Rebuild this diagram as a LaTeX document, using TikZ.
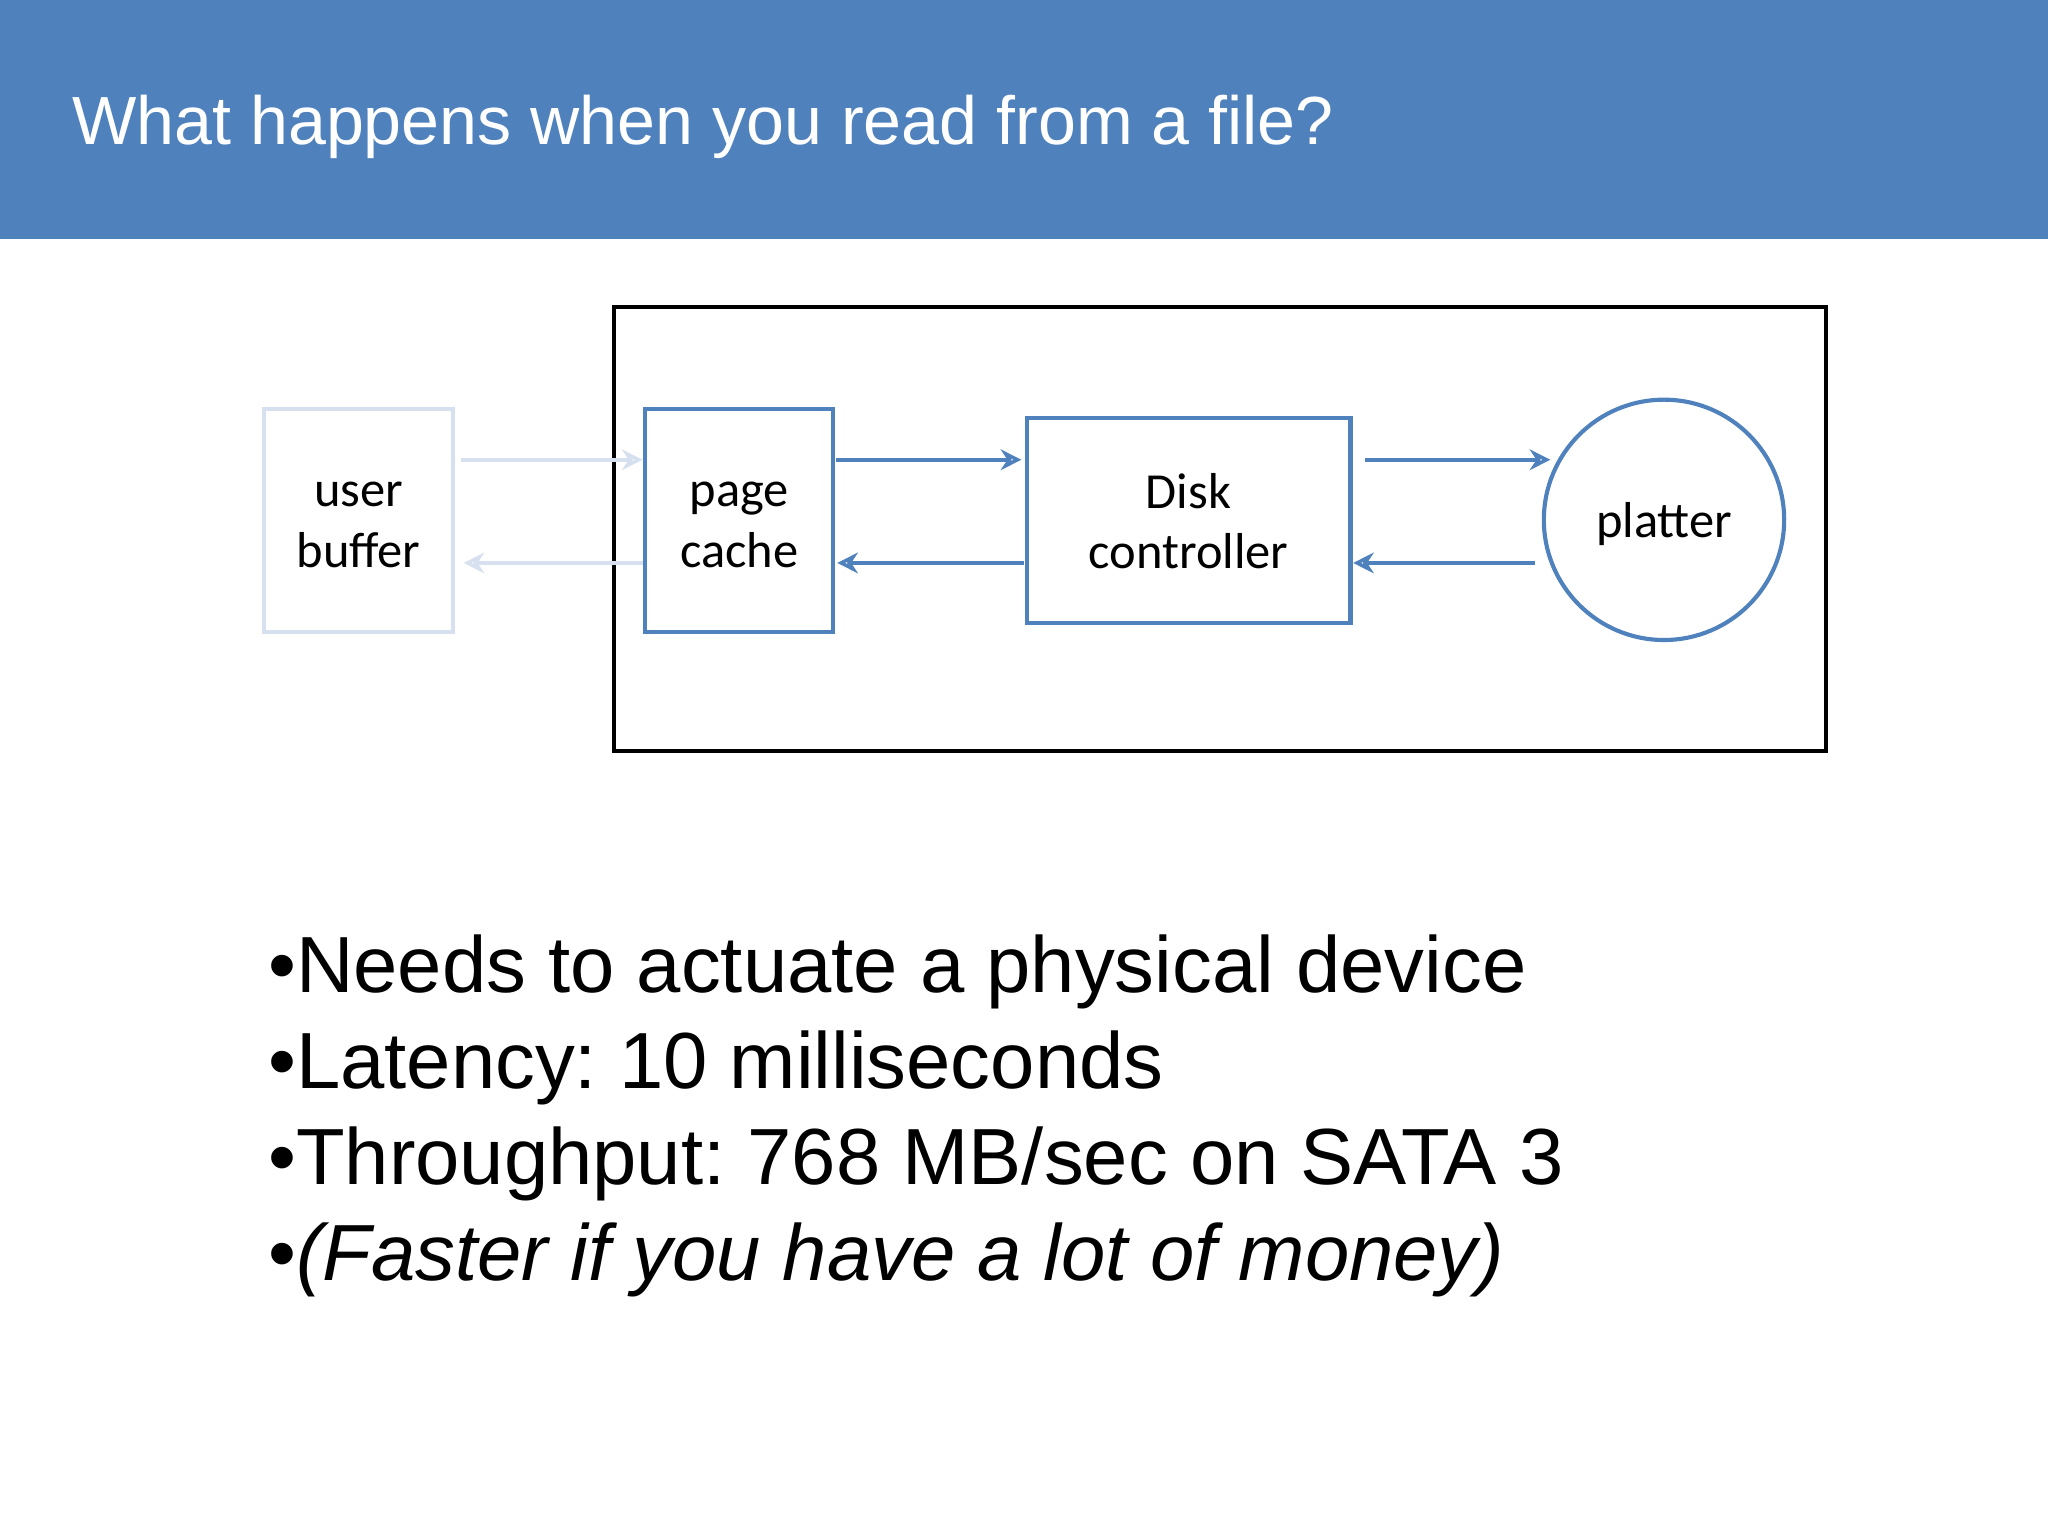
\documentclass[tikz,border=0pt]{standalone}
\usepackage{fontspec}
\setmainfont{Liberation Sans}
\newfontfamily\calib{Carlito}
\usetikzlibrary{arrows.meta}
\definecolor{hdr}{HTML}{4F81BD}
\definecolor{fade}{HTML}{D6E0EE}
\frenchspacing
\tikzset{
  blk/.style={draw=hdr,line width=1.8pt,inner sep=0pt},
  lbl/.style={font=\calib\fontsize{22}{26.5}\selectfont,align=center,inner sep=0pt},
  arr/.style={draw=hdr,line width=1.6pt,-{Stealth[open,length=9pt,width=9pt]}},
  farr/.style={arr,draw=fade},
  bul/.style={anchor=base west,font=\fontsize{34.7}{40}\selectfont,inner sep=0pt}
}
\begin{document}
\begin{tikzpicture}[x=0.02cm,y=-0.02cm]
\useasboundingbox (0,0) rectangle (1568,1176);
\fill[hdr] (0,0) rectangle (1568,183);
\node[anchor=base west,text=white,font=\fontsize{29.7}{34}\selectfont,inner sep=0pt] (title) at (55,111) {What happens when you read from a file?};
\draw[line width=2pt] (470,235) rectangle (1398,575);
\node[blk,draw=fade,minimum width=145*0.02cm,minimum height=171*0.02cm] (ub) at (274.5,398.5) {};
\node[lbl] (ubt) at (274.5,402) {user\\buffer};
\node[blk,minimum width=144*0.02cm,minimum height=171*0.02cm] (pc) at (566,398.5) {};
\node[lbl] (pct) at (566,402) {page\\cache};
\node[blk,minimum width=248*0.02cm,minimum height=157*0.02cm] (dc) at (910,398.5) {};
\node[lbl] (dct) at (910,399) {Disk\\controller};
\node[blk,circle,minimum size=184*0.02cm] (pl) at (1274,398) {};
\node[lbl] (plt) at (1274,401) {platter};
\coordinate (a1) at (353,352); \coordinate (a2) at (492,352);
\coordinate (b1) at (492,431); \coordinate (b2) at (355,431);
\coordinate (c1) at (640,352); \coordinate (c2) at (782,352);
\coordinate (d1) at (784,431); \coordinate (d2) at (641,431);
\coordinate (e1) at (1045,352); \coordinate (e2) at (1187,352);
\coordinate (f1) at (1175,431); \coordinate (f2) at (1036,431);
\draw[farr] (a1) -- (a2);
\draw[farr] (b1) -- (b2);
\draw[arr] (c1) -- (c2);
\draw[arr] (d1) -- (d2);
\draw[arr] (e1) -- (e2);
\draw[arr] (f1) -- (f2);
\node[bul] (l1) at (205,760) {•Needs to actuate a physical device};
\node[bul] (l2) at (205,833) {•Latency: 10 milliseconds};
\node[bul] (l3) at (205,907) {•Throughput: 768 MB/sec on SATA 3};
\node[bul] (l4) at (205,980) {•\textit{(Faster if you have a lot of money)}};
\end{tikzpicture}
\end{document}
